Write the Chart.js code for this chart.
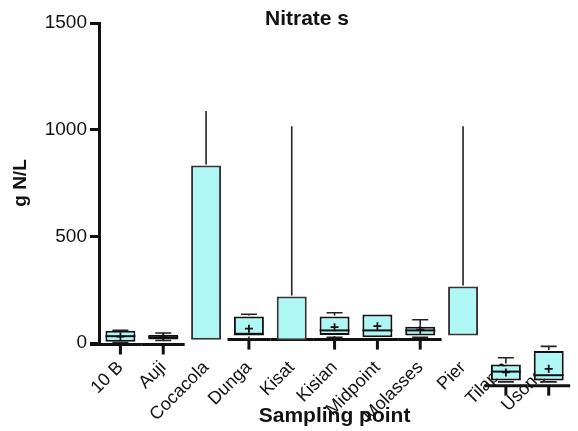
<!DOCTYPE html>
<html>
<head>
<meta charset="utf-8">
<script src="https://cdn.jsdelivr.net/npm/chart.js@4.4.1/dist/chart.umd.min.js"></script>
<style>
  html, body { margin: 0; padding: 0; background: #fff; }
  #wrap { width: 578px; height: 431px; }
</style>
</head>
<body>
<div id="wrap"><canvas id="chart" width="578" height="431"></canvas></div>
<script>
// ── Data (g N/L) ──────────────────────────────────────────────────────────────

const categories  = ["10 B", "Auji", "Cocacola", "Dunga", "Kisat", "Kisian", "Midpoint", "Molasses", "Pier", "Tilapia", "Usonga"];
const lowWhisker  = [2,    12,  null, 20,  null, 27,  27,  27,  null, -182, -182];
const q1          = [6,    16,  15,   35,  12,   38,  27,  35,  35,   -176, -176];
const median      = [32,   27,  null, 43,  null, 59,  59,  59,  null, -134, -151];
const q3          = [58,   39,  832,  124, 218,  124, 134, 76,  265,  -101, -38];
const highWhisker = [60,   47,  1088, 135, 1016, 142, 134, 109, 1016, -69,  -16];
const means       = [30,   28,  null, 67,  null, 74,  79,  62,  null, -138, -121];
// level of the (broken) x axis line under each category
const axisLevel   = [-7,   -7,  null, 16,  16,   16,  16,  16,  null, -200, -200];
const yTicks      = [0, 500, 1000, 1500];

const FONT = "'Liberation Sans', Arial, sans-serif";
const INK = "#111";

// ── Plugins ──────────────────────────────────────────────────────────────────

// x axis segments + ticks, drawn behind the boxes
const axisSegments = {
  id: "axisSegments",
  beforeDatasetsDraw(chart) {
    const { ctx, scales: { x, y } } = chart;
    const half = (x.getPixelForValue(1) - x.getPixelForValue(0)) / 2;
    ctx.save();
    ctx.strokeStyle = INK;
    ctx.lineWidth = 3;
    categories.forEach((c, i) => {
      if (axisLevel[i] == null) return;
      const cx = x.getPixelForValue(i);
      const py = y.getPixelForValue(axisLevel[i]);
      ctx.beginPath();
      ctx.moveTo(i === 0 ? cx - half - 9 : cx - half, py);
      ctx.lineTo(cx + half, py);
      ctx.stroke();
      if (means[i] != null) {
        ctx.beginPath();
        ctx.moveTo(cx, py);
        ctx.lineTo(cx, py + 10);
        ctx.stroke();
      }
    });
    ctx.restore();
  }
};

// whiskers, medians and mean markers
const boxDetails = {
  id: "boxDetails",
  afterDatasetsDraw(chart) {
    const { ctx, scales: { x, y } } = chart;
    ctx.save();
    categories.forEach((c, i) => {
      const cx = x.getPixelForValue(i);
      const bar = chart.getDatasetMeta(0).data[i];
      const halfW = bar.width / 2;
      const capped = means[i] != null;

      ctx.strokeStyle = "#222";
      ctx.lineWidth = 1.6;
      // upper whisker
      if (highWhisker[i] > q3[i]) {
        const top = y.getPixelForValue(highWhisker[i]);
        ctx.beginPath();
        ctx.moveTo(cx, y.getPixelForValue(q3[i]) - 1);
        ctx.lineTo(cx, top);
        if (capped) { ctx.moveTo(cx - 8, top); ctx.lineTo(cx + 8, top); }
        ctx.stroke();
      }
      // lower whisker
      if (lowWhisker[i] != null && lowWhisker[i] < q1[i]) {
        const bot = y.getPixelForValue(lowWhisker[i]);
        ctx.beginPath();
        ctx.moveTo(cx, y.getPixelForValue(q1[i]) + 1);
        ctx.lineTo(cx, bot);
        if (capped) { ctx.moveTo(cx - 8, bot); ctx.lineTo(cx + 8, bot); }
        ctx.stroke();
      }
      // median
      if (median[i] != null) {
        const my = y.getPixelForValue(median[i]);
        ctx.strokeStyle = INK;
        ctx.lineWidth = 2;
        ctx.beginPath();
        ctx.moveTo(cx - halfW, my);
        ctx.lineTo(cx + halfW, my);
        ctx.stroke();
      }
      // mean "+"
      if (means[i] != null) {
        const my = y.getPixelForValue(means[i]);
        ctx.strokeStyle = INK;
        ctx.lineWidth = 1.8;
        ctx.beginPath();
        ctx.moveTo(cx - 4, my); ctx.lineTo(cx + 4, my);
        ctx.moveTo(cx, my - 4); ctx.lineTo(cx, my + 4);
        ctx.stroke();
      }
    });
    ctx.restore();
  }
};

// chart title sits over the top of the plot area
const topTitle = {
  id: "topTitle",
  afterDraw(chart) {
    const { ctx } = chart;
    ctx.save();
    ctx.font = `bold 21px ${FONT}`;
    ctx.fillStyle = INK;
    ctx.textAlign = "center";
    ctx.textBaseline = "middle";
    ctx.fillText("Nitrate s", 307, 19);
    ctx.restore();
  }
};

// ── Chart ────────────────────────────────────────────────────────────────────

new Chart(document.getElementById("chart"), {
  type: "bar",
  data: {
    labels: categories,
    datasets: [{
      data: categories.map((c, i) => [q1[i], q3[i]]),
      backgroundColor: "rgb(175,247,245)",
      borderColor: categories.map((c, i) => means[i] != null ? INK : "#333"),
      borderWidth: 2,
      borderSkipped: false,
      barPercentage: 0.7,
      categoryPercentage: 1,
      clip: false
    }]
  },
  options: {
    responsive: false,
    animation: false,
    layout: { padding: { top: 23, left: 0, right: 0, bottom: 0 } },
    plugins: { legend: { display: false }, tooltip: { enabled: false }, title: { display: false } },
    scales: {
      x: {
        offset: true,
        grid: { display: false, drawTicks: false },
        border: { display: false },
        afterFit(scale) { scale.height = 88; },
        ticks: {
          autoSkip: false, maxRotation: 45, minRotation: 45,
          padding: 14, color: INK,
          font: { family: FONT, size: 18 }
        },
        title: {
          display: true, text: "Sampling point", color: INK,
          font: { family: FONT, size: 21, weight: "bold" },
          padding: { top: 0, bottom: 2 }
        }
      },
      y: {
        min: 0, max: 1500,
        afterBuildTicks(scale) { scale.ticks = yTicks.map(v => ({ value: v })); },
        afterFit(scale) { scale.width = 99; },
        grid: { drawOnChartArea: false, drawTicks: true, tickLength: 9, tickWidth: 3, tickColor: INK },
        border: { display: true, width: 3, color: INK },
        ticks: { padding: 3, color: INK, font: { family: FONT, size: 19 }, callback: v => String(v) },
        title: {
          display: true, text: "g N/L", color: INK,
          font: { family: FONT, size: 19, weight: "bold" },
          padding: { top: 9, bottom: 0 }
        }
      }
    }
  },
  plugins: [axisSegments, boxDetails, topTitle]
});
</script>
</body>
</html>
